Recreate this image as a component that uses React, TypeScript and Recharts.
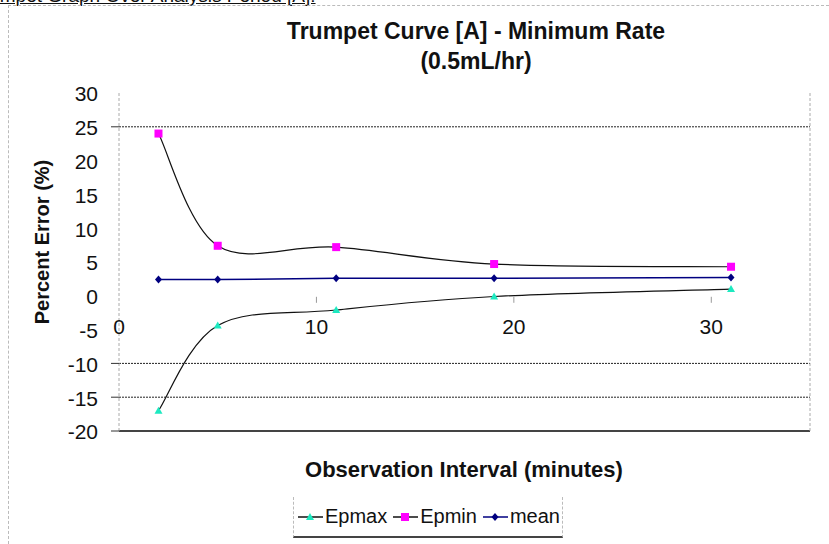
import { LineChart, Line, XAxis, YAxis, ReferenceLine, ReferenceDot, Legend } from 'recharts';

const intervals = [2, 5, 11, 19, 31];
const epmax = [-17, -4.4, -2.1, -0.1, 1.0];
const epmin = [24, 7.4, 7.2, 4.7, 4.3];
const meanErr = [2.4, 2.4, 2.6, 2.6, 2.7];

const xTicks = [0, 10, 20, 30];
const yTicks = [30, 25, 20, 15, 10, 5, 0, -5, -10, -15, -20];
const gridLevels = [25, -10, -15];

const data = intervals.map((t, i) => ({
  interval: t,
  epmax: epmax[i],
  epmin: epmin[i],
  mean: meanErr[i],
}));

const FONT = '"Liberation Sans", Arial, sans-serif';
const TEAL = '#1de9c0';
const MAGENTA = '#ff00ff';
const NAVY = '#000080';

// Excel-like smoothed line (Catmull-Rom through the points)
function excelSmooth(context: any) {
  let pts: [number, number][] = [];
  return {
    areaStart() {},
    areaEnd() {},
    lineStart() {
      pts = [];
    },
    lineEnd() {
      if (!pts.length) return;
      context.moveTo(pts[0][0], pts[0][1]);
      for (let i = 0; i < pts.length - 1; i++) {
        const p0 = pts[i - 1] || pts[i];
        const p1 = pts[i];
        const p2 = pts[i + 1];
        const p3 = pts[i + 2] || p2;
        context.bezierCurveTo(
          p1[0] + (p2[0] - p0[0]) / 6,
          p1[1] + (p2[1] - p0[1]) / 6,
          p2[0] - (p3[0] - p1[0]) / 6,
          p2[1] - (p3[1] - p1[1]) / 6,
          p2[0],
          p2[1]
        );
      }
    },
    point(x: number, y: number) {
      pts.push([x, y]);
    },
  };
}

function Marker({ kind, cx, cy, color }: { kind: string; cx: number; cy: number; color: string }) {
  if (kind === 'square') {
    return <rect x={cx - 4} y={cy - 4} width={8} height={8} fill={color} />;
  }
  if (kind === 'triangle') {
    return <polygon points={`${cx},${cy - 4} ${cx + 4},${cy + 3} ${cx - 4},${cy + 3}`} fill={color} />;
  }
  return <polygon points={`${cx},${cy - 4} ${cx + 3.5},${cy} ${cx},${cy + 4} ${cx - 3.5},${cy}`} fill={color} />;
}

const legendItems = [
  { name: 'Epmax', line: '#111', kind: 'triangle', color: TEAL },
  { name: 'Epmin', line: '#111', kind: 'square', color: MAGENTA },
  { name: 'mean', line: NAVY, kind: 'diamond', color: NAVY },
];

function LegendBox() {
  return (
    <div
      style={{
        display: 'flex',
        alignItems: 'center',
        height: 41,
        boxSizing: 'border-box',
        borderLeft: '1px dashed #bbb',
        borderRight: '1px dashed #bbb',
        borderBottom: '2px solid #444',
        paddingLeft: 4,
        fontFamily: FONT,
        fontSize: 20,
        color: '#111',
        background: '#fff',
      }}
    >
      {legendItems.map((it) => (
        <div key={it.name} style={{ display: 'flex', alignItems: 'center', marginRight: 6 }}>
          <svg width={25} height={20}>
            <line x1={0} y1={10} x2={25} y2={10} stroke={it.line} strokeWidth={1.5} />
            <Marker kind={it.kind} cx={12} cy={10} color={it.color} />
          </svg>
          <span style={{ marginLeft: 2 }}>{it.name}</span>
        </div>
      ))}
    </div>
  );
}

function YTick(props: any) {
  const { x, y, payload } = props;
  return (
    <g>
      {gridLevels.concat(-20).includes(payload.value) && (
        <line x1={x + 13} y1={y} x2={x + 21} y2={y} stroke="#333" strokeWidth={1} />
      )}
      <text x={x} y={y + 1} dy="0.35em" textAnchor="end" fontSize={21} fontFamily={FONT} fill="#111">
        {payload.value}
      </text>
    </g>
  );
}

export default function App() {
  return (
    <div
      style={{
        position: 'relative',
        width: 829,
        height: 544,
        overflow: 'hidden',
        background: '#fff',
        fontFamily: FONT,
      }}
    >
      <style>{'body{margin:0}'}</style>
      {/* page heading above the chart, mostly scrolled out of view as in the source */}
      <div
        style={{
          position: 'absolute',
          left: -28,
          top: -15,
          fontSize: 19,
          lineHeight: '22px',
          textDecoration: 'underline',
          whiteSpace: 'nowrap',
          color: '#111',
        }}
      >
        Trumpet Graph Over Analysis Period [A]:
      </div>
      <div
        style={{
          position: 'absolute',
          left: 8,
          top: 5,
          right: 0,
          bottom: 0,
          borderTop: '1px dashed #bbb',
          borderLeft: '1px dashed #bbb',
        }}
      />
      <LineChart
        width={829}
        height={544}
        data={data}
        margin={{ top: 93, right: 19, bottom: 113, left: 9 }}
        style={{ position: 'absolute', left: 0, top: 0 }}
      >
        <XAxis dataKey="interval" type="number" domain={[0, 35]} ticks={xTicks} hide />
        <YAxis
          type="number"
          domain={[-20, 30]}
          ticks={yTicks}
          interval={0}
          width={110}
          tickSize={0}
          tickMargin={21}
          tickLine={false}
          axisLine={{ stroke: '#aaa', strokeDasharray: '3 2' }}
          tick={<YTick />}
        />
        {gridLevels.map((v) => (
          <ReferenceLine key={v} y={v} stroke="#222" strokeDasharray="2 1" />
        ))}
        <ReferenceLine y={-20} stroke="#444" strokeWidth={2} />
        <ReferenceLine x={35} stroke="#aaa" strokeDasharray="3 2" />
        {xTicks.map((t) => (
          <ReferenceDot
            key={t}
            x={t}
            y={0}
            r={0}
            shape={(p: any) => (
              <g>
                {t !== 0 && <line x1={p.cx} y1={p.cy + 1} x2={p.cx} y2={p.cy + 7} stroke="#999" />}
                <text
                  x={p.cx}
                  y={p.cy + 31}
                  dy="0.35em"
                  textAnchor="middle"
                  fontSize={21}
                  fontFamily={FONT}
                  fill="#111"
                >
                  {t}
                </text>
              </g>
            )}
          />
        ))}
        <Line
          dataKey="epmax"
          name="Epmax"
          type={excelSmooth as any}
          stroke="#111"
          strokeWidth={1.2}
          isAnimationActive={false}
          dot={(p: any) => <Marker key={`mx-${p.index}`} kind="triangle" cx={p.cx} cy={p.cy} color={TEAL} />}
          activeDot={false}
        />
        <Line
          dataKey="epmin"
          name="Epmin"
          type={excelSmooth as any}
          stroke="#111"
          strokeWidth={1.2}
          isAnimationActive={false}
          dot={(p: any) => <Marker key={`mn-${p.index}`} kind="square" cx={p.cx} cy={p.cy} color={MAGENTA} />}
          activeDot={false}
        />
        <Line
          dataKey="mean"
          name="mean"
          type="linear"
          stroke={NAVY}
          strokeWidth={1.5}
          isAnimationActive={false}
          dot={(p: any) => <Marker key={`me-${p.index}`} kind="diamond" cx={p.cx} cy={p.cy} color={NAVY} />}
          activeDot={false}
        />
        <Legend
          layout="horizontal"
          verticalAlign="middle"
          align="center"
          wrapperStyle={{ left: 293, top: 497, width: 270, height: 41 }}
          content={() => <LegendBox />}
        />
      </LineChart>
      {/* title */}
      <div
        style={{
          position: 'absolute',
          left: 276,
          top: 16,
          width: 400,
          textAlign: 'center',
          fontSize: 23,
          fontWeight: 700,
          lineHeight: '30px',
          color: '#111',
        }}
      >
        Trumpet Curve [A] - Minimum Rate
        <br />
        (0.5mL/hr)
      </div>
      {/* x axis title */}
      <div
        style={{
          position: 'absolute',
          left: 264,
          top: 457,
          width: 400,
          textAlign: 'center',
          fontSize: 22,
          fontWeight: 700,
          lineHeight: '26px',
          color: '#111',
        }}
      >
        Observation Interval (minutes)
      </div>
      {/* y axis title */}
      <div
        style={{
          position: 'absolute',
          left: 42 - 100,
          top: 242 - 12,
          width: 200,
          height: 24,
          textAlign: 'center',
          fontSize: 20,
          fontWeight: 700,
          lineHeight: '24px',
          transform: 'rotate(-90deg)',
          color: '#111',
        }}
      >
        Percent Error (%)
      </div>
    </div>
  );
}
